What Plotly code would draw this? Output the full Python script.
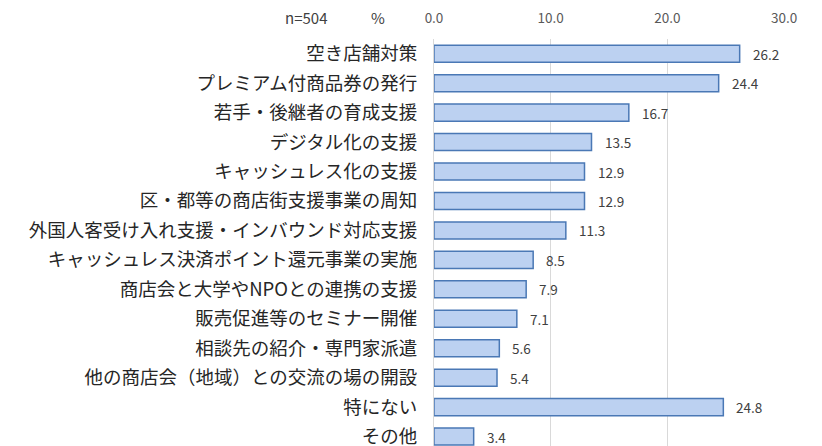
import plotly.graph_objects as go

categories = [
    "空き店舗対策",
    "プレミアム付商品券の発行",
    "若手・後継者の育成支援",
    "デジタル化の支援",
    "キャッシュレス化の支援",
    "区・都等の商店街支援事業の周知",
    "外国人客受け入れ支援・インバウンド対応支援",
    "キャッシュレス決済ポイント還元事業の実施",
    "商店会と大学やNPOとの連携の支援",
    "販売促進等のセミナー開催",
    "相談先の紹介・専門家派遣",
    "他の商店会（地域）との交流の場の開設",
    "特にない",
    "その他",
]
values = [26.2, 24.4, 16.7, 13.5, 12.9, 12.9, 11.3, 8.5, 7.9, 7.1, 5.6, 5.4, 24.8, 3.4]
x_ticks = [0, 10, 20, 30]
x_tick_labels = ["0.0", "10.0", "20.0", "30.0"]

FONT = "Noto Sans CJK JP"
# page body has an 8px margin, so the figure is drawn 8px in from the top-left
W, H = 814, 438
ML, MR, MT, MB = 426, 38, 31, 0

fig = go.Figure(go.Bar(
    x=values, y=categories, orientation="h",
    marker=dict(color="#bcd1f1", line=dict(color="#4a78b5", width=1.5)),
    width=0.58,
    cliponaxis=False,
))

# value labels to the right of each bar
for v, c in zip(values, categories):
    fig.add_annotation(x=v, y=c, text=f"{v:.1f}", showarrow=False,
                       xanchor="left", xshift=11,
                       font=dict(size=13.5, color="#404040", family=FONT))

fig.update_layout(
    width=W, height=H,
    margin=dict(l=ML, r=MR, t=MT, b=MB, autoexpand=False),
    paper_bgcolor="white", plot_bgcolor="white",
    showlegend=False,
    font=dict(family=FONT),
    xaxis=dict(
        side="top", range=[0, 30], tickvals=x_ticks, ticktext=x_tick_labels,
        showgrid=True, gridcolor="#d9d9d9", gridwidth=1,
        zeroline=False, showline=False,
        ticks="", ticklabelstandoff=12,
        tickfont=dict(size=13.5, color="#595959"),
    ),
    yaxis=dict(
        type="category", range=[13.32, -0.5],
        showgrid=False, zeroline=False,
        showline=True, linecolor="#d9d9d9",
        ticks="", ticklabelstandoff=12,
        tickfont=dict(size=18.5, color="#262626"),
    ),
)

pw, ph = W - ML - MR, H - MT - MB
for txt, px_x in [("n=504", 306), ("%", 378)]:
    fig.add_annotation(text=txt, xref="paper", yref="paper",
                       x=(px_x - 8 - ML) / pw, y=(H - (18 - 8) - MB) / ph,
                       showarrow=False, xanchor="center", yanchor="middle",
                       font=dict(size=15, color="#404040", family=FONT))

fig.write_html("out.html")
